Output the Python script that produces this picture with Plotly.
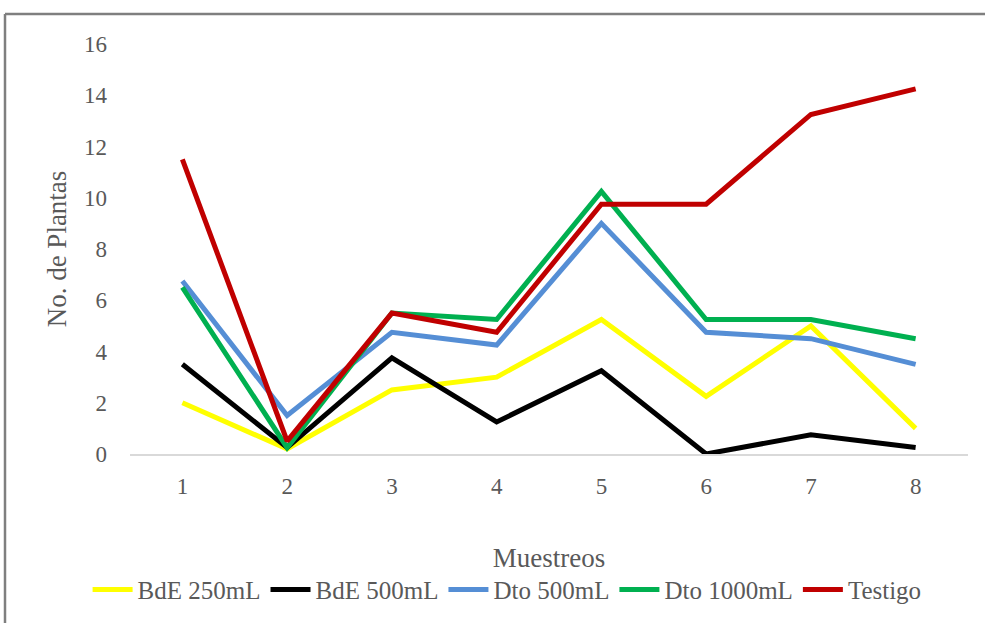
import plotly.graph_objects as go

muestreos = ["1", "2", "3", "4", "5", "6", "7", "8"]
bde_250 = [2.0, 0.2, 2.5, 3.0, 5.25, 2.25, 5.0, 1.0]
bde_500 = [3.5, 0.25, 3.75, 1.25, 3.25, 0.0, 0.75, 0.25]
dto_500 = [6.75, 1.5, 4.75, 4.25, 9.0, 4.75, 4.5, 3.5]
dto_1000 = [6.5, 0.25, 5.5, 5.25, 10.25, 5.25, 5.25, 4.5]
testigo = [11.5, 0.5, 5.5, 4.75, 9.75, 9.75, 13.25, 14.25]

series = [
    ("BdE 250mL", bde_250, "#FFFF00"),
    ("BdE 500mL", bde_500, "#000000"),
    ("Dto 500mL", dto_500, "#558ED5"),
    ("Dto 1000mL", dto_1000, "#00B050"),
    ("Testigo", testigo, "#C00000"),
]

FONT = "Liberation Serif"
GREY = "#595959"
fig = go.Figure()
for name, vals, col in series:
    fig.add_trace(go.Scatter(x=muestreos, y=vals, name=name, mode="lines",
                             line=dict(color=col, width=5)))

fig.update_layout(
    width=985, height=623,
    margin=dict(l=130, r=17, t=44, b=168),
    paper_bgcolor="white", plot_bgcolor="white",
    font=dict(family=FONT, size=23, color=GREY),
    showlegend=True,
    legend=dict(orientation="h", x=0.45, xanchor="center", y=-0.328, yanchor="middle",
                font=dict(family=FONT, size=25, color=GREY),
                itemwidth=40, tracegroupgap=0),
    xaxis=dict(type="category", range=[-0.5, 7.5], showgrid=False, automargin=False,
               showline=True, linecolor="#D9D9D9", linewidth=1.5,
               ticks="", ticklabelstandoff=11,
               tickfont=dict(family=FONT, size=23, color=GREY),
               title=dict(text="Muestreos", standoff=50,
                          font=dict(family=FONT, size=27, color=GREY))),
    yaxis=dict(range=[0, 16], dtick=2, showgrid=False, zeroline=False, automargin=False,
               showline=False, ticks="", ticklabelstandoff=22,
               tickfont=dict(family=FONT, size=23, color=GREY),
               title=dict(text="No. de Plantas", standoff=9,
                          font=dict(family=FONT, size=27, color=GREY))),
    shapes=[
        dict(type="line", xref="paper", yref="paper",
             x0=(5 - 130) / 838, x1=(990 - 130) / 838,
             y0=(455 - 14) / 411, y1=(455 - 14) / 411,
             line=dict(color="#7F7F7F", width=2.5)),
        dict(type="line", xref="paper", yref="paper",
             x0=(5 - 130) / 838, x1=(5 - 130) / 838,
             y0=(455 - 14) / 411, y1=(455 - 630) / 411,
             line=dict(color="#7F7F7F", width=2.5)),
    ],
)

fig.write_html("out.html", config={"displayModeBar": False},
               post_script="document.body.style.margin='0';")
